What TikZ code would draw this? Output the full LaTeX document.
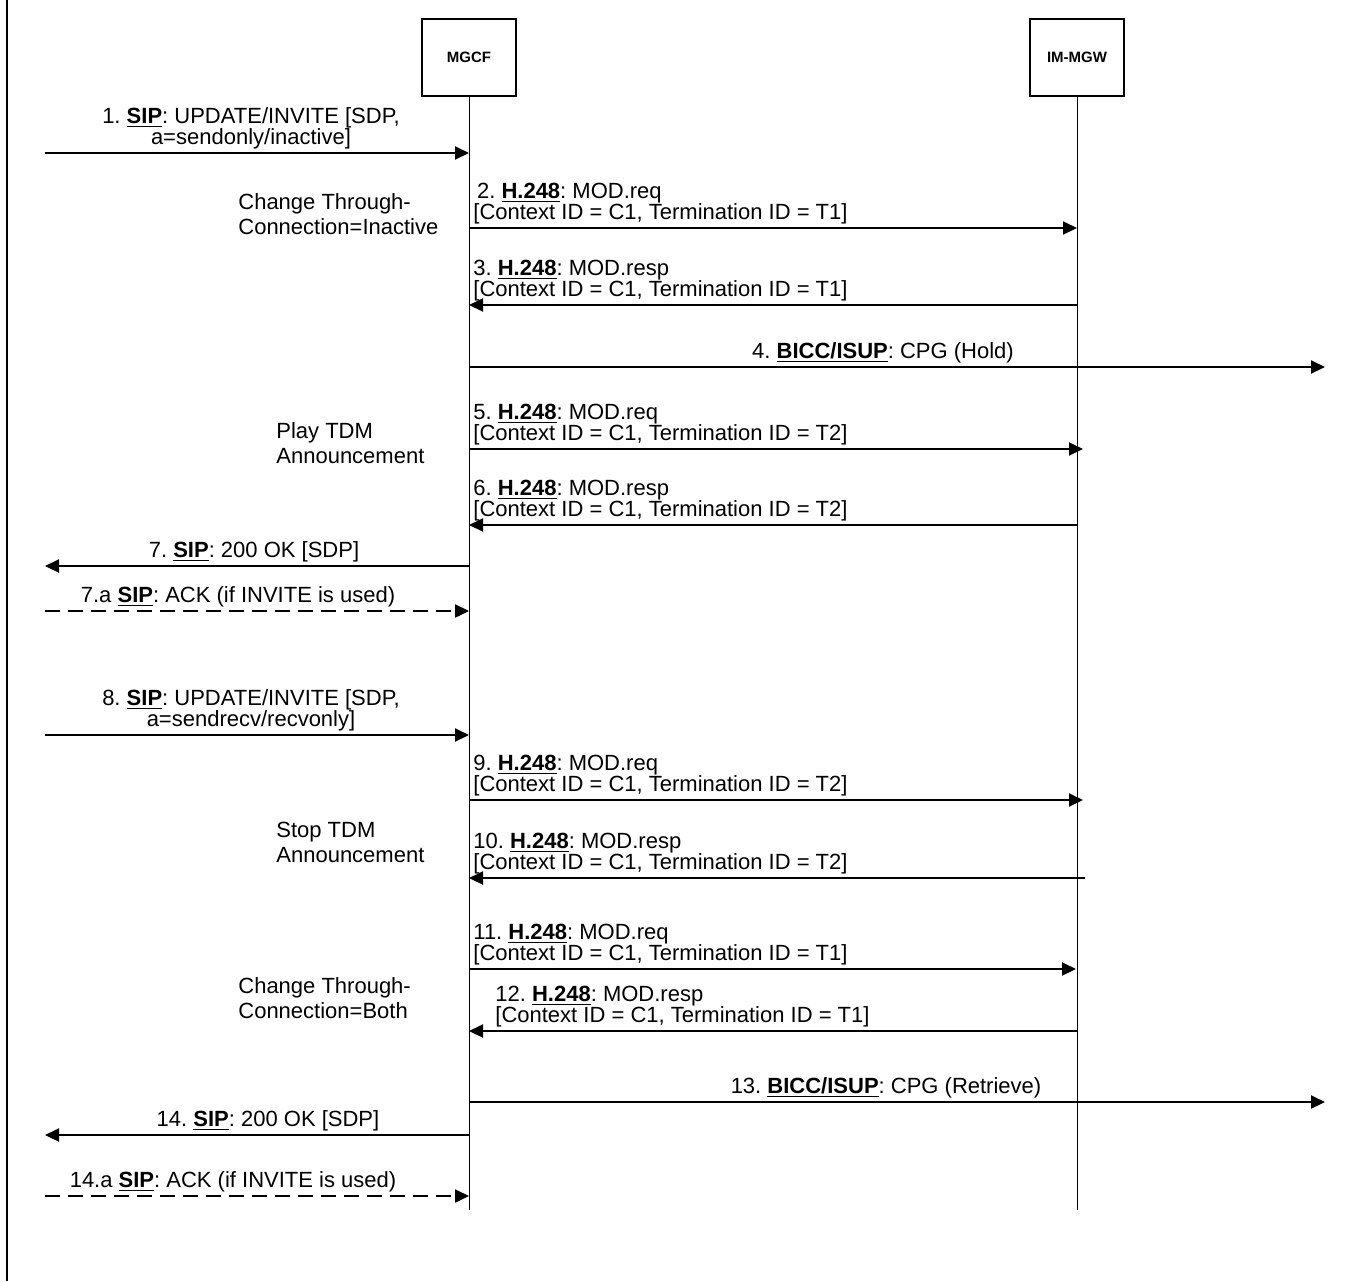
\documentclass[tikz,border=0pt]{standalone}
\usepackage{fontspec}
\setmainfont{Liberation Sans}
\usetikzlibrary{arrows.meta}
\frenchspacing

\newcommand{\proto}[1]{\underline{\textbf{#1}}}

\tikzset{
  entity/.style={draw, line width=0.75pt, minimum width=47pt, minimum height=38.5pt,
    inner sep=0pt, font=\bfseries\fontsize{7.5}{9}\selectfont},
  lifeline/.style={line width=0.5pt},
  msg/.style={line width=1pt, -{Triangle[length=7pt,width=6.5pt]}},
  ack/.style={msg, line width=1.2pt, dash pattern=on 7.5pt off 4pt},
  lbl/.style={inner sep=0pt, align=center, font=\fontsize{11}{10.5}\selectfont},
  hlbl/.style={inner sep=0pt, align=left, anchor=south west, font=\fontsize{11}{10.5}\selectfont},
  note/.style={inner sep=0pt, align=left, anchor=north west, font=\fontsize{11}{12.5}\selectfont}
}

\begin{document}
\begin{tikzpicture}[x=0.5pt,y=-0.5pt]
\useasboundingbox (0,0) rectangle (1350,1281);
\draw[line width=1pt] (7,0) -- (7,1281);

% entities and lifelines
\node[entity] (mgcf) at (469,57.5) {MGCF};
\node[entity] (mgw) at (1077,57.5) {IM-MGW};
\coordinate (mgcfEnd) at (469,1210);
\coordinate (mgwEnd) at (1077,1210);
\draw[lifeline] (mgcf) -- (mgcfEnd);
\draw[lifeline] (mgw) -- (mgwEnd);

% side notes
\node[note] (n1) at (238,193) {Change Through-\\Connection=Inactive};
\node[note] (n2) at (276,422) {Play TDM\\Announcement};
\node[note] (n3) at (276,822) {Stop TDM\\Announcement};
\node[note] (n4) at (238,977) {Change Through-\\Connection=Both};

% hold
\coordinate (m1s) at (45,153);   \coordinate (m1e) at (469,153);
\coordinate (m2s) at (469,228);  \coordinate (m2e) at (1077,228);
\coordinate (m3s) at (1077,305); \coordinate (m3e) at (469,305);
\coordinate (m4s) at (469,367);  \coordinate (m4e) at (1325,367);
\coordinate (m5s) at (469,449);  \coordinate (m5e) at (1083,449);
\coordinate (m6s) at (1077,525); \coordinate (m6e) at (469,525);
\coordinate (m7s) at (469,566);  \coordinate (m7e) at (45,566);
\coordinate (m7as) at (45,611);  \coordinate (m7ae) at (469,611);
\draw[msg] (m1s) -- (m1e);
\draw[msg] (m2s) -- (m2e);
\draw[msg] (m3s) -- (m3e);
\draw[msg] (m4s) -- (m4e);
\draw[msg] (m5s) -- (m5e);
\draw[msg] (m6s) -- (m6e);
\draw[msg] (m7s) -- (m7e);
\draw[ack] (m7as) -- (m7ae);
\node[lbl, anchor=south] (t1) at (251,149) {1. \proto{SIP}: UPDATE/INVITE [SDP,\\a=sendonly/inactive]};
\node[hlbl] (t2) at (473,224) {\,2. \proto{H.248}: MOD.req\\{}[Context ID = C1, Termination ID = T1]};
\node[hlbl] (t3) at (473,301) {3. \proto{H.248}: MOD.resp\\{}[Context ID = C1, Termination ID = T1]};
\node[lbl, anchor=south] (t4) at (883,363) {4. \proto{BICC/ISUP}: CPG (Hold)};
\node[hlbl] (t5) at (473,445) {5. \proto{H.248}: MOD.req\\{}[Context ID = C1, Termination ID = T2]};
\node[hlbl] (t6) at (473,521) {6. \proto{H.248}: MOD.resp\\{}[Context ID = C1, Termination ID = T2]};
\node[lbl, anchor=south] (t7) at (254,562) {7. \proto{SIP}: 200 OK [SDP]};
\node[lbl, anchor=south] (t7a) at (238,607) {7.a \proto{SIP}: ACK (if INVITE is used)};

% retrieve
\coordinate (m8s) at (45,735);    \coordinate (m8e) at (469,735);
\coordinate (m9s) at (469,800);   \coordinate (m9e) at (1083,800);
\coordinate (m10s) at (1085,878); \coordinate (m10e) at (469,878);
\coordinate (m11s) at (469,969);  \coordinate (m11e) at (1076,969);
\coordinate (m12s) at (1077,1031);\coordinate (m12e) at (469,1031);
\coordinate (m13s) at (469,1102); \coordinate (m13e) at (1325,1102);
\coordinate (m14s) at (469,1135); \coordinate (m14e) at (45,1135);
\coordinate (m14as) at (45,1196); \coordinate (m14ae) at (469,1196);
\draw[msg] (m8s) -- (m8e);
\draw[msg] (m9s) -- (m9e);
\draw[msg] (m10s) -- (m10e);
\draw[msg] (m11s) -- (m11e);
\draw[msg] (m12s) -- (m12e);
\draw[msg] (m13s) -- (m13e);
\draw[msg] (m14s) -- (m14e);
\draw[ack] (m14as) -- (m14ae);
\node[lbl, anchor=south] (t8) at (251,731) {8. \proto{SIP}: UPDATE/INVITE [SDP,\\a=sendrecv/recvonly]};
\node[hlbl] (t9) at (473,796) {9. \proto{H.248}: MOD.req\\{}[Context ID = C1, Termination ID = T2]};
\node[hlbl] (t10) at (473,874) {10. \proto{H.248}: MOD.resp\\{}[Context ID = C1, Termination ID = T2]};
\node[hlbl] (t11) at (473,965) {11. \proto{H.248}: MOD.req\\{}[Context ID = C1, Termination ID = T1]};
\node[hlbl] (t12) at (495,1027) {12. \proto{H.248}: MOD.resp\\{}[Context ID = C1, Termination ID = T1]};
\node[lbl, anchor=south] (t13) at (886,1098) {13. \proto{BICC/ISUP}: CPG (Retrieve)};
\node[lbl, anchor=south] (t14) at (268,1131) {14. \proto{SIP}: 200 OK [SDP]};
\node[lbl, anchor=south] (t14a) at (233,1192) {14.a \proto{SIP}: ACK (if INVITE is used)};
\end{tikzpicture}
\end{document}
